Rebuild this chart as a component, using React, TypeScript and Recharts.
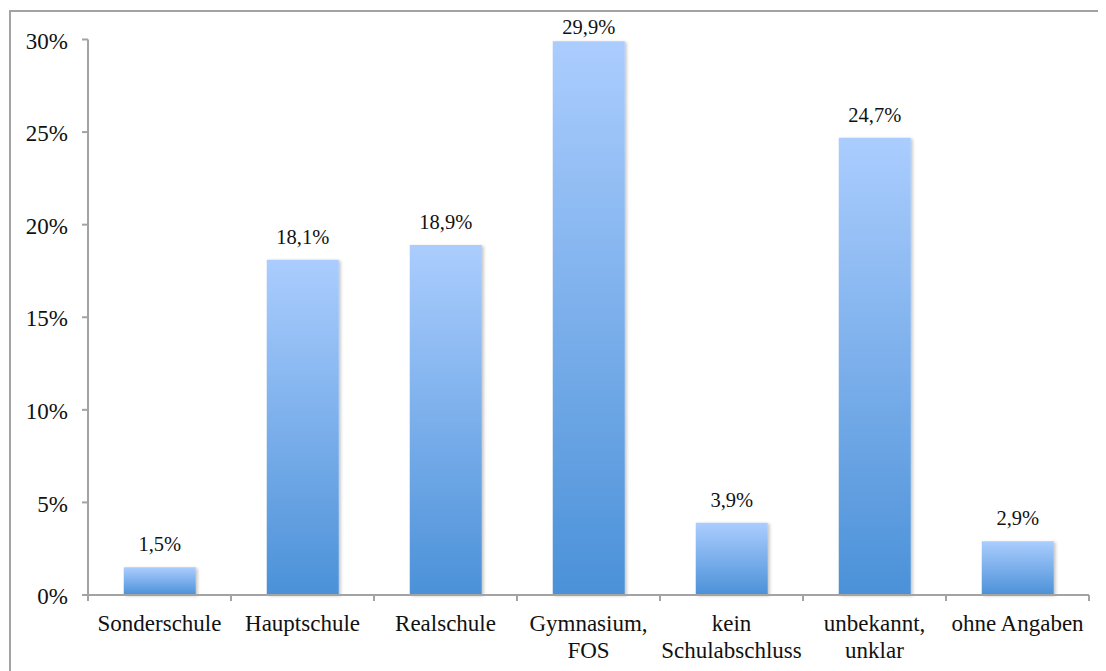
import React from "react";
import { BarChart, Bar, XAxis, YAxis, LabelList } from "recharts";

const categories = [
  "Sonderschule",
  "Hauptschule",
  "Realschule",
  "Gymnasium,\nFOS",
  "kein\nSchulabschluss",
  "unbekannt,\nunklar",
  "ohne Angaben",
];
const shares = [1.5, 18.1, 18.9, 29.9, 3.9, 24.7, 2.9];
const yTicks = [0, 5, 10, 15, 20, 25, 30];

const data = categories.map((name, i) => ({ name, value: shares[i] }));

const FONT = "'Liberation Serif', 'Times New Roman', serif";
const AXIS = "#a3a3a3";
const fmt = (v: number) => `${String(v).replace(".", ",")}%`;

// category labels with tick marks on the band edges instead of the centre
const CategoryTick = (props: any) => {
  const { x, y, payload, index } = props;
  const half = payload?.offset ?? 71.5;
  const lines = String(payload.value).split("\n");
  return (
    <g>
      <line x1={x - half} x2={x - half} y1={y - 8} y2={y - 2} stroke={AXIS} strokeWidth={2} />
      {index === categories.length - 1 && (
        <line x1={x + half} x2={x + half} y1={y - 8} y2={y - 2} stroke={AXIS} strokeWidth={2} />
      )}
      <text x={x} y={y + 28} textAnchor="middle" fontFamily={FONT} fontSize={23} fill="#111">
        {lines.map((l, i) => (
          <tspan key={i} x={x} dy={i === 0 ? 0 : 27}>
            {l}
          </tspan>
        ))}
      </text>
    </g>
  );
};

// value above each bar, kept inside the frame for the tallest one
const ValueLabel = (props: any) => {
  const { x, y, width, value } = props;
  return (
    <text
      x={x + width / 2}
      y={Math.max(y - 16, 26)}
      textAnchor="middle"
      fontFamily={FONT}
      fontSize={20.5}
      fill="#111"
    >
      {fmt(value)}
    </text>
  );
};

export default function App() {
  return (
    <div style={{ position: "relative", width: 1098, height: 663, overflow: "hidden" }}>
      <div
        style={{
          position: "absolute",
          left: 1,
          top: 2,
          width: 1200,
          height: 800,
          borderTop: `2px solid ${AXIS}`,
          borderLeft: `2px solid ${AXIS}`,
        }}
      />
      <BarChart
        width={1098}
        height={663}
        data={data}
        margin={{ top: 31.5, right: 17, left: 0, bottom: 0 }}
        barCategoryGap="25%"
        style={{ position: "absolute", left: 0, top: 0 }}
      >
        <defs>
          <linearGradient id="barFill" x1="0" y1="0" x2="0" y2="1">
            <stop offset="0%" stopColor="#abcdfe" />
            <stop offset="100%" stopColor="#4b91d8" />
          </linearGradient>
          <filter id="barShadow" x="-10%" y="-10%" width="130%" height="130%">
            <feDropShadow dx="2" dy="1" stdDeviation="1.5" floodColor="#000" floodOpacity="0.22" />
          </filter>
        </defs>
        <XAxis
          dataKey="name"
          height={76}
          axisLine={{ stroke: AXIS, strokeWidth: 2 }}
          tickLine={false}
          tick={<CategoryTick />}
          interval={0}
        />
        <YAxis
          domain={[0, 30]}
          ticks={yTicks}
          width={80}
          axisLine={{ stroke: AXIS, strokeWidth: 2 }}
          tickLine={{ stroke: AXIS, strokeWidth: 2 }}
          tickSize={6}
          tickMargin={14}
          tickFormatter={(v) => `${v}%`}
          tick={{ fontFamily: FONT, fontSize: 23, fill: "#111", dy: 1 }}
        />
        <Bar
          dataKey="value"
          fill="url(#barFill)"
          filter="url(#barShadow)"
          isAnimationActive={false}
        >
          <LabelList dataKey="value" content={<ValueLabel />} />
        </Bar>
      </BarChart>
    </div>
  );
}
